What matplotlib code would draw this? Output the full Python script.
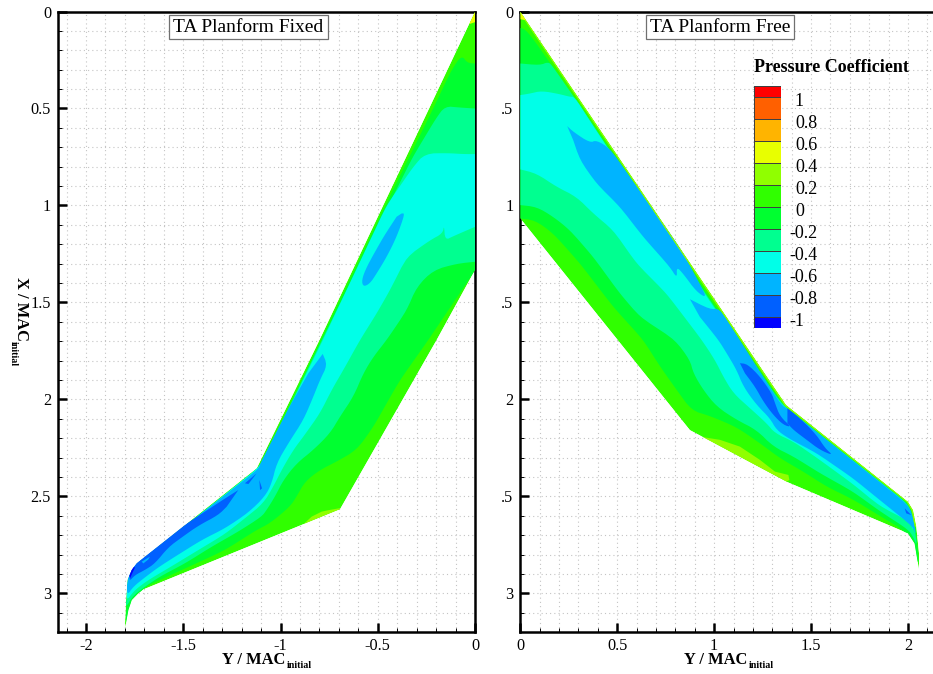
import matplotlib
matplotlib.use("Agg")
import matplotlib.pyplot as plt
from matplotlib.colors import ListedColormap, BoundaryNorm
from matplotlib.patches import Polygon
from matplotlib.ticker import FixedLocator, FixedFormatter
import numpy as np

plt.rcParams['font.family'] = ['Liberation Serif', 'DejaVu Serif']

# ---------- colour scale ----------
LEVELS = [-1.1, -1, -0.8, -0.6, -0.4, -0.2, 0, 0.2, 0.4, 0.6, 0.8, 1, 1.1]
BAND_COLORS = ['#0000ff', '#0060ff', '#00b4ff', '#00ffe8', '#00ff90', '#00ff30',
               '#30ff00', '#90ff00', '#e8ff00', '#ffb400', '#ff6000', '#ff0000']
LEGEND_TICKS = [1, 0.8, 0.6, 0.4, 0.2, 0, -0.2, -0.4, -0.6, -0.8, -1]
LEGEND_LABELS = ['1', '0.8', '0.6', '0.4', '0.2', '0', '-0.2', '-0.4', '-0.6', '-0.8', '-1']

# ---------- TA Planform Fixed: (Y, X) contour-band outlines ----------
FIXED_OUTLINE = [(0, 0), (-0.80, 1.694), (-1.122, 2.354), (-1.739, 2.844), (-1.765, 2.879),
                 (-1.787, 2.93), (-1.794, 3.034), (-1.801, 3.188), (-1.782, 3.085), (-1.765, 3.034),
                 (-1.731, 2.999), (-1.705, 2.979), (-0.694, 2.566), (-0.197, 1.693), (0, 1.333)]
FIXED_M0_2 = [(0, .268), (-.04, .265), (-.069, .225), (-.12, .30), (-.215, .5), (-.46, 1.0),
              (-.79, 1.69), (-1.108, 2.355), (-1.722, 2.838), (-1.76, 2.885), (-1.782, 2.93),
              (-1.79, 3.03), (-1.798, 3.18), (-1.714, 2.974), (-1.628, 2.934), (-1.414, 2.836),
              (-1.285, 2.776), (-1.122, 2.672), (-1.054, 2.638), (-.951, 2.552), (-.917, 2.5),
              (-.874, 2.423), (-.797, 2.363), (-.711, 2.32), (-.608, 2.26), (-.522, 2.14),
              (-.454, 2.019), (-.385, 1.899), (-.24, 1.693), (0, 1.335)]
FIXED_M0_4 = [(0, .50), (-.08, .495), (-.154, .488), (-.20, .55), (-.32, .75), (-.445, 1.0),
              (-.785, 1.69), (-1.11, 2.355), (-1.725, 2.84), (-1.765, 2.89), (-1.785, 2.94),
              (-1.792, 3.03), (-1.796, 3.075), (-1.757, 3.008), (-1.628, 2.917), (-1.491, 2.845),
              (-1.354, 2.759), (-1.217, 2.681), (-1.097, 2.604), (-1.071, 2.569), (-1.028, 2.5),
              (-.985, 2.415), (-.917, 2.329), (-.831, 2.26), (-.745, 2.174), (-.694, 2.088),
              (-.625, 1.985), (-.574, 1.865), (-.522, 1.779), (-.454, 1.693), (-.351, 1.54),
              (-.30, 1.42), (-.214, 1.333), (-.094, 1.30), (0, 1.29)]
FIXED_M0_6 = [(0, .735), (-.06, .735), (-.14, .73), (-.257, .732), (-.317, .80), (-.455, 1.0),
              (-.78, 1.69), (-1.10, 2.34), (-1.73, 2.845), (-1.772, 2.895), (-1.788, 2.945),
              (-1.794, 3.042), (-1.757, 2.991), (-1.714, 2.955), (-1.662, 2.92), (-1.577, 2.87),
              (-1.457, 2.797), (-1.285, 2.693), (-1.18, 2.61), (-1.088, 2.535), (-1.037, 2.449),
              (-.994, 2.363), (-.934, 2.26), (-.882, 2.191), (-.797, 2.071), (-.737, 1.951),
              (-.677, 1.848), (-.591, 1.693), (-.506, 1.557), (-.437, 1.436), (-.351, 1.265),
              (-.231, 1.179), (-.166, 1.144), (-.159, 1.101), (-.154, 1.179), (-.111, 1.158),
              (0, 1.11)]
FIXED_M0_8_A = [(-.783, 1.765), (-.759, 1.822), (-.797, 1.899), (-.831, 1.985), (-.882, 2.105),
                (-.96, 2.226), (-1.02, 2.329), (-1.045, 2.432), (-1.08, 2.5), (-1.165, 2.583),
                (-1.285, 2.664), (-1.405, 2.724), (-1.542, 2.81), (-1.628, 2.865), (-1.697, 2.917),
                (-1.757, 2.965), (-1.788, 3.01), (-1.79, 2.95), (-1.775, 2.88), (-1.735, 2.84),
                (-1.115, 2.36), (-1.105, 2.332), (-.954, 2.037), (-.857, 1.865)]
FIXED_M0_8_B = [(-.377, 1.041), (-.36, 1.041), (-.403, 1.162), (-.454, 1.265), (-.506, 1.351),
                (-.54, 1.402), (-.574, 1.419), (-.583, 1.385), (-.557, 1.316), (-.471, 1.162),
                (-.403, 1.058)]
FIXED_M1_0_A = [(-1.217, 2.467), (-1.285, 2.51), (-1.388, 2.578), (-1.508, 2.656), (-1.611, 2.724),
                (-1.697, 2.785), (-1.748, 2.836), (-1.769, 2.888), (-1.779, 2.939), (-1.748, 2.905),
                (-1.697, 2.879), (-1.645, 2.845), (-1.577, 2.762), (-1.508, 2.711), (-1.422, 2.65),
                (-1.32, 2.596), (-1.277, 2.553)]
FIXED_M1_0_B = [(-1.183, 2.432), (-1.123, 2.381), (-1.165, 2.436)]
FIXED_M1_0_C = [(-1.109, 2.415), (-1.095, 2.458), (-1.105, 2.467)]
FIXED_M0_8_C = [(-1.714, 2.836), (-1.671, 2.81), (-1.68, 2.825), (-1.705, 2.845)]
FIXED_M1_2 = [(-1.774, 2.922), (-1.748, 2.865), (-1.762, 2.862), (-1.779, 2.905)]
FIXED_P0_4_TIP = [(0, 0), (-.03, .065), (0, .055)]
FIXED_P0_4_TE = [(-.694, 2.566), (-.694, 2.56), (-.745, 2.569), (-.788, 2.578), (-.84, 2.604), (-.882, 2.643)]

# ---------- TA Planform Free: (Y, X) contour-band outlines ----------
FREE_OUTLINE = [(0, 0), (1.371, 2.028), (2.0, 2.527), (2.026, 2.57), (2.043, 2.656),
                (2.057, 2.794), (2.057, 2.879), (2.034, 2.742), (2.0, 2.69),
                (1.373, 2.424), (.875, 2.158), (0, 1.067)]
FREE_M0_2 = [(0, .085), (.02, .09), (.05, .12), (.115, .21), (.33, .52), (.66, 1.0), (1.12, 1.69),
             (1.36, 2.03), (1.99, 2.525), (2.02, 2.565), (2.038, 2.65), (2.052, 2.79), (2.055, 2.86),
             (1.991, 2.681), (1.854, 2.6), (1.716, 2.515), (1.58, 2.449), (1.46, 2.372), (1.34, 2.303),
             (1.237, 2.226), (1.116, 2.143), (.979, 2.085), (.884, 2.057), (.807, 1.951), (.721, 1.83),
             (.634, 1.693), (.479, 1.522), (.308, 1.299), (.17, 1.144), (.076, 1.076), (0, 1.067)]
FREE_M0_4 = [(0, .268), (.101, .277), (.144, .26), (.165, .28), (.325, .51), (.65, 1.0),
             (1.115, 1.69), (1.355, 2.03), (1.985, 2.525), (2.015, 2.57), (2.032, 2.65),
             (2.048, 2.76), (2.026, 2.707), (2.0, 2.67), (1.854, 2.575), (1.716, 2.475),
             (1.546, 2.38), (1.409, 2.294), (1.305, 2.243), (1.219, 2.157), (1.116, 2.105),
             (1.013, 2.037), (.944, 1.951), (.893, 1.865), (.875, 1.796), (.798, 1.693),
             (.617, 1.574), (.514, 1.454), (.376, 1.265), (.256, 1.127), (.17, 1.058),
             (.084, 1.007), (0, .998)]
FREE_M0_6 = [(0, .431), (.05, .423), (.11, .409), (.204, .426), (.256, .44), (.28, .44), (.35, .55),
             (.645, 1.0), (1.11, 1.69), (1.35, 2.03), (1.98, 2.525), (2.01, 2.57), (2.03, 2.66),
             (2.026, 2.672), (2.009, 2.63), (1.854, 2.549), (1.716, 2.436), (1.529, 2.3),
             (1.409, 2.217), (1.314, 2.174), (1.271, 2.123), (1.185, 2.045), (1.099, 1.968),
             (1.047, 1.882), (1.004, 1.796), (.936, 1.693), (.754, 1.454), (.6, 1.299), (.479, 1.127),
             (.376, 1.041), (.29, .955), (.187, .904), (.084, .835), (0, .814)]
FREE_M0_8_A = [(.242, .591), (.273, .62), (.359, .677), (.393, .663), (.462, .706), (.651, .973),
               (.823, 1.213), (.966, 1.479), (.909, 1.445), (.84, 1.351), (.806, 1.316),
               (.809, 1.376), (.771, 1.316), (.634, 1.162), (.514, 1.007), (.393, .887),
               (.308, .766), (.273, .663)]
FREE_M0_8_B = [(.875, 1.483), (.978, 1.536), (1.029, 1.531), (1.132, 1.694), (1.347, 2.028),
               (1.381, 2.05), (1.991, 2.535), (2.022, 2.587), (2.043, 2.707), (2.026, 2.656),
               (1.854, 2.518), (1.716, 2.406), (1.529, 2.277), (1.383, 2.2), (1.322, 2.157),
               (1.288, 2.097), (1.219, 2.028), (1.151, 1.934), (1.116, 1.848), (1.065, 1.762),
               (1.022, 1.693), (.926, 1.574)]
FREE_M1_0_A = [(1.133, 1.813), (1.171, 1.817), (1.237, 1.882), (1.297, 1.968), (1.314, 2.019),
               (1.34, 2.088), (1.4, 2.143), (1.357, 2.131), (1.305, 2.08), (1.254, 2.011),
               (1.211, 1.934), (1.159, 1.865)]
FREE_M1_0_B = [(1.378, 2.045), (1.443, 2.097), (1.529, 2.183), (1.572, 2.251), (1.615, 2.289),
               (1.546, 2.26), (1.477, 2.208), (1.409, 2.157), (1.378, 2.123)]
FREE_M1_0_C = [(1.983, 2.561), (2.017, 2.596), (1.991, 2.587)]
FREE_P0_4_LE = [(0, 0), (1.371, 2.028), (2.0, 2.527), (2.026, 2.57), (2.043, 2.656), (2.035, 2.656),
                (2.018, 2.572), (1.994, 2.53), (1.365, 2.033), (0, .012)]
FREE_P0_6_TIP = [(0, 0), (.03, .045), (0, .04)]
FREE_P0_4_TE = [(.935, 2.193), (1.03, 2.208), (1.133, 2.243), (1.237, 2.312), (1.314, 2.372),
                (1.383, 2.389), (1.388, 2.415), (1.373, 2.424)]

# (polygon, Cp value of the band), in paint order
FIXED_BANDS = [(FIXED_OUTLINE, 0.1), (FIXED_P0_4_TIP, 0.5), (FIXED_P0_4_TE, 0.3),
               (FIXED_M0_2, -0.1), (FIXED_M0_4, -0.3), (FIXED_M0_6, -0.5), (FIXED_M0_8_A, -0.7),
               (FIXED_M0_8_B, -0.7), (FIXED_M1_0_A, -0.9), (FIXED_M1_0_B, -0.9), (FIXED_M1_0_C, -0.9),
               (FIXED_M0_8_C, -0.7), (FIXED_M1_2, -1.05)]
FREE_BANDS = [(FREE_OUTLINE, 0.1), (FREE_P0_4_TE, 0.3),
              (FREE_M0_2, -0.1), (FREE_M0_4, -0.3), (FREE_M0_6, -0.5), (FREE_M0_8_A, -0.7),
              (FREE_M0_8_B, -0.7), (FREE_M1_0_A, -0.9), (FREE_M1_0_B, -0.9), (FREE_M1_0_C, -0.9),
              (FREE_P0_4_LE, 0.3), (FREE_P0_6_TIP, 0.5)]
SMOOTHED = [FIXED_M0_2, FIXED_M0_4, FIXED_M0_6, FIXED_M0_8_A, FIXED_M1_0_A, FIXED_M0_8_B,
            FREE_M0_2, FREE_M0_4, FREE_M0_6, FREE_M0_8_A, FREE_M0_8_B, FREE_M1_0_A, FREE_M1_0_B]

X_MINOR = [-2.1, -2.0, -1.9, -1.8, -1.7, -1.6, -1.5, -1.4, -1.3, -1.2, -1.1, -1.0,
           -0.9, -0.8, -0.7, -0.6, -0.5, -0.4, -0.3, -0.2, -0.1, 0.0]
Y_MINOR = [0, .1, .2, .3, .4, .5, .6, .7, .8, .9, 1, 1.1, 1.2, 1.3, 1.4, 1.5, 1.6, 1.7, 1.8, 1.9,
           2, 2.1, 2.2, 2.3, 2.4, 2.5, 2.6, 2.7, 2.8, 2.9, 3, 3.1]
Y_MAJOR = [0, .5, 1, 1.5, 2, 2.5, 3]
LEFT_X_MAJOR, LEFT_X_LABELS = [-2, -1.5, -1, -.5, 0], ['-2', '-1.5', '-1', '-0.5', '0']
RIGHT_X_MAJOR, RIGHT_X_LABELS = [0, .5, 1, 1.5, 2], ['0', '0.5', '1', '1.5', '2']
LEFT_Y_LABELS = ['0', '0.5', '1', '1.5', '2', '2.5', '3']
RIGHT_Y_LABELS = ['0', '.5', '1', '.5', '2', '.5', '3']

W, H = 933, 674
fig = plt.figure(figsize=(W / 100, H / 100), dpi=100, facecolor='white')
cmap = ListedColormap(BAND_COLORS)
norm = BoundaryNorm(LEVELS, cmap.N)


def axes_px(l, t, r, b):
    return fig.add_axes([l / W, 1 - b / H, (r - l) / W, (b - t) / H])


def setup(ax, xlim, xmajor, xlabels, xminor, ylabels):
    ax.set_xlim(*xlim)
    ax.set_ylim(3.196, 0)
    ax.set_axisbelow(True)
    ax.xaxis.set_major_locator(FixedLocator(xmajor))
    ax.xaxis.set_major_formatter(FixedFormatter(xlabels))
    ax.xaxis.set_minor_locator(FixedLocator(xminor))
    ax.yaxis.set_major_locator(FixedLocator(Y_MAJOR))
    ax.yaxis.set_major_formatter(FixedFormatter(ylabels))
    ax.yaxis.set_minor_locator(FixedLocator(Y_MINOR))
    ax.tick_params(which='major', direction='in', length=6.2, width=1.8, labelsize=11.7, pad=5, top=False, right=False)
    ax.tick_params(axis='x', which='major', pad=4.5)
    ax.tick_params(which='minor', direction='in', length=3.2, width=0.7, top=False, right=False)
    ax.grid(which='both', color='#c4c4c4', lw=0.8, ls=(0, (1, 2.8)))
    for side in ax.spines.values():
        side.set_linewidth(1.8)
        side.set_zorder(2.5)


def round_corners(poly, reach=0.03, passes=2):
    """Round an outline's corners for drawing; its two end points stay put."""
    pts = np.asarray(poly, float)
    for _ in range(passes):
        out = [pts[0]]
        for a, b, c in zip(pts[:-2], pts[1:-1], pts[2:]):
            for other in (a, c):
                gap = np.linalg.norm(other - b)
                cut = min(0.25 * gap, reach)
                out.append(b + (other - b) / max(gap, 1e-9) * cut)
        out.append(pts[-1])
        pts = np.array(out)
        # second point pair order: a-side then c-side keeps the walk in sequence
    return pts


def draw_bands(ax, bands):
    clip = Polygon(bands[0][0], closed=True, transform=ax.transData)
    for poly, value in bands:
        shape = round_corners(poly) if any(poly is s for s in SMOOTHED) else poly
        p = Polygon(shape, closed=True, facecolor=cmap(norm(value)), edgecolor='none', zorder=3, lw=0)
        ax.add_patch(p)
        p.set_clip_path(clip)


ax_l = axes_px(58, 11.5, 475, 631.5)
setup(ax_l, (-2.144, 0), LEFT_X_MAJOR, LEFT_X_LABELS, X_MINOR, LEFT_Y_LABELS)
draw_bands(ax_l, FIXED_BANDS)

ax_r = axes_px(520.3, 11.5, 933, 631.5)
setup(ax_r, (0, 2.129), RIGHT_X_MAJOR, RIGHT_X_LABELS, [round(v * 0.1, 1) for v in range(22)], RIGHT_Y_LABELS)
ax_r.spines['right'].set_visible(False)
draw_bands(ax_r, FREE_BANDS)


def label(px, py, s, **kw):
    return fig.text(px / W, 1 - py / H, s, **kw)


# panel titles
for cx, s in ((248.5, 'TA Planform Fixed'), (720.3, 'TA Planform Free')):
    label(cx, 27, s, fontsize=14, ha='center', va='center', zorder=10,
          bbox=dict(boxstyle='square,pad=0.2', fc='white', ec='#707070', lw=0.9))

# axis labels
for x0, x1 in ((222, 286.5), (684.3, 748.8)):
    label(x0, 659.5, 'Y / MAC', fontsize=11.9, fontweight='bold', ha='left', va='center')
    label(x1, 665.5, 'initial', fontsize=7.2, fontweight='bold', ha='left', va='center')
label(21, 277, 'X / MAC', fontsize=11.9, fontweight='bold', rotation=270, ha='center', va='top')
label(13.5, 341, 'initial', fontsize=7.2, fontweight='bold', rotation=270, ha='center', va='top')

# legend
label(753.5, 67, 'Pressure Coefficient', fontsize=13, fontweight='bold', ha='left', va='center')
ax_c = axes_px(753.5, 86, 781, 328.3)
ax_c.set_xlim(0, 1)
ax_c.set_ylim(LEVELS[0], LEVELS[-1])
ax_c.axis('off')
edges = np.array(LEVELS)
ax_c.pcolormesh([0, 1], edges, ((edges[:-1] + edges[1:]) / 2).reshape(-1, 1),
                cmap=cmap, norm=norm, edgecolors='#404040', linewidth=0.4)
for v, s in zip(LEGEND_TICKS, LEGEND_LABELS):
    ax_c.annotate(s, xy=(1, v), xycoords=('axes fraction', 'data'),
                  xytext=(5.8 if v < 0 else 10, -3), textcoords='offset points',
                  ha='left', va='center', fontsize=13, annotation_clip=False)

fig.savefig('out.png', dpi=100)
